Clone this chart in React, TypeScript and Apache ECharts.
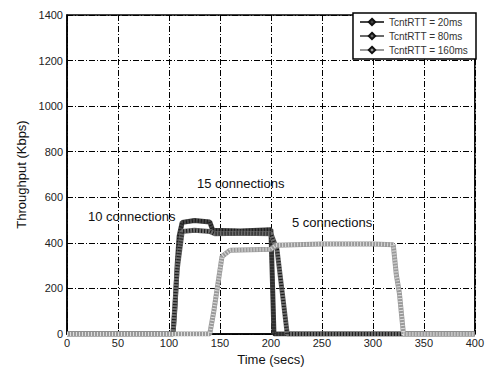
import React, { useEffect, useRef } from "react";
import * as echarts from "echarts";

const seriesNames = ["TcntRTT = 20ms", "TcntRTT = 80ms", "TcntRTT = 160ms"];

const t20 = [0, 104, 106, 108, 110, 113, 125, 140, 143, 170, 200, 203, 400];
const y20 = [0, 0, 120, 300, 430, 490, 498, 492, 455, 452, 458, 0, 0];

const t80 = [0, 104, 108, 113, 125, 140, 145, 170, 200, 206, 212, 216, 400];
const y80 = [0, 0, 280, 450, 455, 450, 440, 442, 440, 370, 150, 0, 0];

const t160 = [0, 140, 144, 148, 152, 160, 180, 200, 205, 250, 300, 320, 323, 326, 330, 400];
const y160 = [0, 0, 100, 220, 340, 368, 370, 372, 390, 395, 395, 392, 260, 180, 0, 0];

const xTicks = { min: 0, max: 400, interval: 50 };
const yTicks = { min: 0, max: 1400, interval: 200 };

const annotations = [
  { text: "10 connections", x: 88, y: 210 },
  { text: "15 connections", x: 197, y: 177 },
  { text: "5 connections", x: 292, y: 216 },
];

const pair = (t: number[], y: number[]) => t.map((v, i) => [v, y[i]]);

const FONT = "Liberation Sans, Arial, sans-serif";

export default function App() {
  const ref = useRef<HTMLDivElement>(null);
  useEffect(() => {
    if (!ref.current) return;
    const chart = echarts.init(ref.current, undefined, { renderer: "svg" });
    const data = [pair(t20, y20), pair(t80, y80), pair(t160, y160)];
    const colors = ["#444", "#6a6a6a", "#9a9a9a"];
    const widths = [5, 5, 5];
    const series: any[] = [];
    data.forEach((d, i) => {
      series.push({
        name: seriesNames[i],
        type: "line",
        data: d,
        showSymbol: false,
        symbol: "diamond",
        symbolSize: 8,
        itemStyle: { color: colors[i], borderColor: "#111", borderWidth: 1 },
        lineStyle: { color: colors[i], width: widths[i] },
        z: 3 + i,
      });
      series.push({
        name: seriesNames[i] + "_hatch",
        type: "line",
        data: d,
        showSymbol: false,
        silent: true,
        lineStyle: { color: i === 2 ? "#dddddd" : "#1a1a1a", width: widths[i] - 1, type: [1, 2] },
        z: 3 + i,
      });
    });
    chart.setOption({
      animation: false,
      grid: {
        left: 67,
        top: 15,
        right: 11,
        bottom: 33,
        show: true,
        borderColor: "#000",
        borderWidth: 1.5,
        backgroundColor: "#fff",
      },
      legend: {
        data: seriesNames,
        orient: "vertical",
        right: 11,
        top: 13,
        backgroundColor: "#fff",
        borderColor: "#000",
        borderWidth: 1.5,
        borderRadius: 0,
        padding: [4, 8, 4, 6],
        itemGap: 4,
        itemWidth: 24,
        itemHeight: 8,
        textStyle: { fontSize: 10, color: "#333", fontFamily: FONT },
      },
      xAxis: {
        type: "value",
        ...xTicks,
        name: "Time (secs)",
        nameLocation: "middle",
        nameGap: 19,
        nameTextStyle: { fontSize: 13, color: "#111", fontFamily: FONT },
        axisLine: { show: true, lineStyle: { color: "#000", width: 1.5 } },
        axisTick: { show: true, inside: true, length: 4, lineStyle: { color: "#000" } },
        axisLabel: { fontSize: 11, color: "#222", fontFamily: FONT, margin: 3 },
        splitLine: { show: true, lineStyle: { color: "#000", width: 1, type: [6, 2, 1, 2] } },
      },
      yAxis: {
        type: "value",
        ...yTicks,
        name: "Throughput (Kbps)",
        nameLocation: "middle",
        nameGap: 35,
        nameTextStyle: { fontSize: 13, color: "#111", fontFamily: FONT },
        axisLine: { show: true, lineStyle: { color: "#000", width: 1.5 } },
        axisTick: { show: true, inside: true, length: 4, lineStyle: { color: "#000" } },
        axisLabel: {
          fontSize: 11,
          color: "#222",
          fontFamily: FONT,
          margin: 4,
          formatter: (v: number) => String(v),
        },
        splitLine: { show: true, lineStyle: { color: "#000", width: 1, type: [6, 2, 1, 2] } },
      },
      graphic: annotations.map((a) => ({
        type: "text",
        left: a.x,
        top: a.y,
        z: 10,
        style: { text: a.text, fontSize: 13, fill: "#111", fontFamily: FONT },
      })),
      series,
    });
    return () => chart.dispose();
  }, []);
  return <div ref={ref} style={{ width: 487, height: 371, position: "absolute", left: 0, top: 0, background: "#fff" }} />;
}
